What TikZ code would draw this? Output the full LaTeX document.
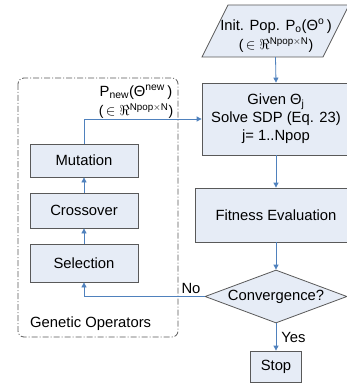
\documentclass[tikz,border=0pt]{standalone}
\usepackage{fontspec}
\setmainfont{Liberation Sans}
\usetikzlibrary{shapes.geometric,arrows.meta}
\definecolor{boxfill}{HTML}{E6ECF6}
\definecolor{boxline}{HTML}{595959}
\definecolor{conn}{HTML}{4F81BD}
\tikzset{
  box/.style={draw=boxline, fill=boxfill, line width=0.8pt, inner sep=0pt, align=center},
  rect/.style={box, rectangle},
  conn/.style={draw=conn, line width=0.8pt, -{Triangle[length=5pt,width=5pt]}},
  lbl/.style={inner sep=0pt, align=center}
}
\newcommand{\rspace}{{\fontsize{14}{17}\selectfont(\,$\in\Re^{\mathrm{Npop}\times\mathrm{N}}$)}}
\begin{document}
\begin{tikzpicture}[x=1pt,y=-1pt, font=\fontsize{14.8}{18}\selectfont]
\useasboundingbox (0,0) rectangle (347,385);
\clip (0,0) rectangle (347,385);
% genetic operators frame
\draw[boxline, line width=0.8pt, rounded corners=6pt, dash pattern=on 6pt off 2pt on 1pt off 2pt] (18,78) rectangle (178,337);
\node[lbl, anchor=west] (gen) at (30,324) {Genetic Operators};
% right column
\node[rectangle, inner sep=0pt, minimum width=120pt, minimum height=52pt] (init) at (275.5,31) {};
\draw[box] (228,5) -- (349,5) -- (323,57) -- (202,57) -- cycle;
\node[lbl] (inittxt) at (276,36) {Init. Pop. P\textsubscript{o}(Θ\textsuperscript{o}\,)\\[1.5pt] \rspace};
\node[rect, minimum width=148pt, minimum height=72pt] (given) at (276,119)
  {Given Θ\textsubscript{j}\\ Solve SDP (Eq. 23)\\ j= 1..Npop};
\node[rect, minimum width=162pt, minimum height=54pt] (fit) at (276,215) {Fitness Evaluation};
\node[box, diamond, aspect=2.68, minimum width=142pt, minimum height=53pt] (conv) at (276,296.5) {};
\node[lbl] (convtxt) at (276,296.5) {Convergence?};
\node[rect, minimum width=51pt, minimum height=31pt] (stop) at (276,366.5) {Stop};
% left column
\node[rect, minimum width=108pt, minimum height=33pt] (mut) at (84,160.5) {Mutation};
\node[rect, minimum width=108pt, minimum height=35pt] (cross) at (84,210.5) {Crossover};
\node[rect, minimum width=108pt, minimum height=38pt] (sel) at (84,263) {Selection};
\node[lbl] (pnew) at (136,102) {P\textsubscript{new}(Θ\textsuperscript{new}\,)\\[1.5pt] \rspace};
% connectors
\draw[conn] (init.south) -- (given.north);
\draw[conn] (given.south) -- (fit.north);
\draw[conn] (fit.south) -- (conv.north);
\draw[conn] (conv.south) -- node[lbl, right=5pt] (yes) {Yes} (stop.north);
\draw[conn] (conv.west) -| (sel.south);
\node[lbl] (no) at (191,288) {No};
\draw[conn] (sel.north) -- (cross.south);
\draw[conn] (cross.north) -- (mut.south);
\draw[conn] (mut.north) |- (given.west);
\end{tikzpicture}
\end{document}
